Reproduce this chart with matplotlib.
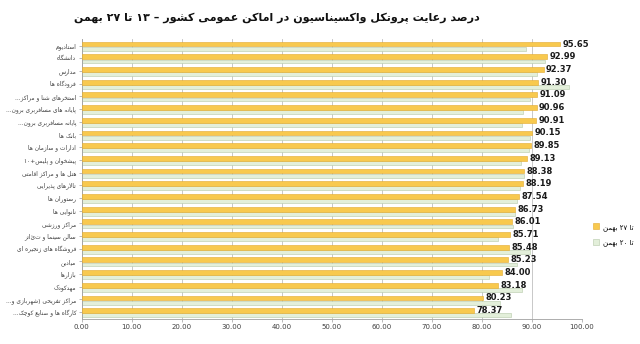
#!/usr/bin/env python3
"""
Vaccination protocol compliance in public places (13 to 27 Bahman).
Horizontal paired bar chart, Persian labels shaped by hand for matplotlib.
"""

import re
import matplotlib
matplotlib.use("Agg")
import matplotlib.pyplot as plt
import numpy as np

TITLE = "درصد رعایت پروتکل واکسیناسیون در اماکن عمومی کشور – ۱۳ تا ۲۷ بهمن"

categories = [
    "استادیوم",
    "دانشگاه",
    "مدارس",
    "فرودگاه ها",
    "استخرهای شنا و مراکز...",
    "پایانه های مسافربری برون...",
    "پایانه مسافربری برون...",
    "بانک ها",
    "ادارات و سازمان ها",
    "پیشخوان و پلیس+۱۰",
    "هتل ها و مراکز اقامتی",
    "تالارهای پذیرایی",
    "رستوران ها",
    "نانوایی ها",
    "مراکز ورزشی",
    "سالن سینما و تئاتر",
    "فروشگاه های زنجیره ای",
    "میادین",
    "بازارها",
    "مهدکودک",
    "مراکز تفریحی (شهربازی و...",
    "کارگاه ها و صنایع کوچک...",
]

values_27 = [95.65, 92.99, 92.37, 91.30, 91.09, 90.96, 90.91, 90.15, 89.85, 89.13, 88.38,
             88.19, 87.54, 86.73, 86.01, 85.71, 85.48, 85.23, 84.00, 83.18, 80.23, 78.37]
values_20 = [88.9, 92.6, 91.1, 97.5, 89.7, 88.2, 88.1, 89.7, 89.5, 87.8, 88.5,
             87.6, 87.0, 86.7, 86.3, 83.2, 89.7, 87.1, 81.5, 88.0, 83.7, 85.9]

series_labels = ["تا ۲۷ بهمن", "تا ۲۰ بهمن"]
x_ticks = [0, 10, 20, 30, 40, 50, 60, 70, 80, 90, 100]

# Arabic presentation forms: base code point of the isolated form,
# the rest follow as final, initial, medial
DUAL = {
    "ب": 0xFE8F, "ت": 0xFE95, "ث": 0xFE99, "ج": 0xFE9D, "ح": 0xFEA1, "خ": 0xFEA5,
    "س": 0xFEB1, "ش": 0xFEB5, "ص": 0xFEB9, "ض": 0xFEBD, "ط": 0xFEC1, "ظ": 0xFEC5,
    "ع": 0xFEC9, "غ": 0xFECD, "ف": 0xFED1, "ق": 0xFED5, "ك": 0xFED9, "ل": 0xFEDD,
    "م": 0xFEE1, "ن": 0xFEE5, "ه": 0xFEE9, "ي": 0xFEF1,
    "پ": 0xFB56, "چ": 0xFB7A, "ک": 0xFB8E, "گ": 0xFB92, "ی": 0xFBFC,
}
RIGHT = {
    "ا": 0xFE8D, "آ": 0xFE81, "د": 0xFEA9, "ذ": 0xFEAB, "ر": 0xFEAD, "ز": 0xFEAF,
    "و": 0xFEED, "ژ": 0xFB8A, "ة": 0xFE93,
}
MIRROR = {"(": ")", ")": "("}


def shape(text):
    """Replace Arabic letters with their contextual presentation forms."""
    out = []
    i, n = 0, len(text)
    while i < n:
        c = text[i]
        if c not in DUAL and c not in RIGHT:
            out.append(c)
            i += 1
            continue
        prev_joins = i > 0 and text[i - 1] in DUAL
        if c == "ل" and i + 1 < n and text[i + 1] == "ا":
            out.append("\uFEFC" if prev_joins else "\uFEFB")
            i += 2
            continue
        nxt = text[i + 1] if i + 1 < n else ""
        next_joins = c in DUAL and (nxt in DUAL or nxt in RIGHT)
        base = DUAL.get(c, RIGHT.get(c))
        if prev_joins and next_joins:
            off = 3
        elif prev_joins:
            off = 1
        elif next_joins:
            off = 2
        else:
            off = 0
        out.append(chr(base + off))
        i += 1
    return "".join(out)


def rtl(text):
    """Shape and put into visual order; digit runs stay left to right."""
    parts = re.split(r"([0-9\u06F0-\u06F9]+)", shape(text))
    vis = []
    for p in reversed(parts):
        if re.fullmatch(r"[0-9\u06F0-\u06F9]+", p):
            vis.append(p)
        else:
            vis.append("".join(MIRROR.get(ch, ch) for ch in reversed(p)))
    return "".join(vis)


def main():
    plt.rcParams["font.family"] = ["DejaVu Sans"]

    fig = plt.figure(figsize=(6.4, 3.44), dpi=100)
    ax = fig.add_axes([0.1277, 0.074, 0.78125, 0.812])

    y = np.arange(len(categories))
    ax.barh(y - 0.12, values_27, height=0.38, color="#F8C94E", edgecolor="#E2A92C",
            linewidth=0.4, label=rtl(series_labels[0]), zorder=3)
    ax.barh(y + 0.25, values_20, height=0.3, color="#E3EFDA", edgecolor="#B5C9A8",
            linewidth=0.4, label=rtl(series_labels[1]), zorder=2)

    for yi, v in zip(y, values_27):
        ax.text(v + 0.5, yi - 0.12, f"{v:.2f}", ha="left", va="center",
                fontsize=6, fontweight="bold", color="#1a1a1a", zorder=4)

    ax.set_xlim(0, 100)
    ax.set_ylim(len(categories) - 0.5, -0.5)
    ax.set_xticks(x_ticks)
    ax.set_xticklabels([f"{t:.2f}" for t in x_ticks], fontsize=5, color="#404040")
    ax.set_yticks(y)
    ax.set_yticklabels([rtl(c) for c in categories], fontsize=4.2, color="#404040")
    ax.tick_params(axis="both", length=2, width=0.5, color="#A0A0A0", pad=2)

    ax.grid(axis="x", color="#BFBFBF", linewidth=0.6, zorder=0)
    for side in ["top", "right"]:
        ax.spines[side].set_visible(False)
    for side in ["left", "bottom"]:
        ax.spines[side].set_color("#A0A0A0")
        ax.spines[side].set_linewidth(0.6)

    ax.legend(loc="center left", bbox_to_anchor=(1.01, 0.30), frameon=False,
              fontsize=5, handlelength=0.9, handleheight=0.9, labelspacing=1.2,
              handletextpad=0.5)

    fig.text(0.433, 0.948, rtl(TITLE), ha="center", va="center",
             fontsize=8, fontweight="bold", color="#111111")

    fig.savefig("out.png", dpi=100)


if __name__ == "__main__":
    main()
